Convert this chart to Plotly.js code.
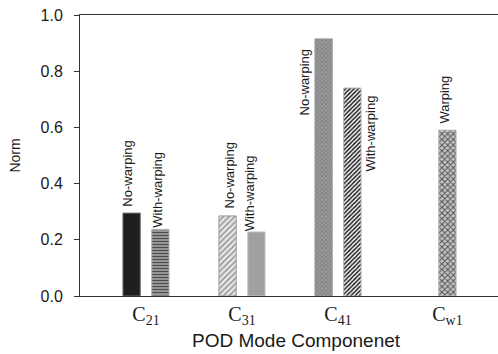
<!DOCTYPE html>
<html>
<head>
<meta charset="utf-8">
<script src="https://cdn.plot.ly/plotly-3.0.1.min.js"></script>
<style>html,body{margin:0;padding:0;background:#fff}#chart{width:498px;height:354px}</style>
</head>
<body>
<div id="chart"></div>
<script>
// ---- data ----
const categories = ['C<sub>21</sub>', 'C<sub>31</sub>', 'C<sub>41</sub>', 'C<sub>w1</sub>'];
const noWarping = [0.295, 0.285, 0.915, null];
const withWarping = [0.237, 0.228, 0.74, null];
const warping = [null, null, null, 0.59];
const seriesNames = ['No-warping', 'With-warping', 'Warping'];
const yTicks = [0.0, 0.2, 0.4, 0.6, 0.8, 1.0];
const yTickLabels = ['0.0', '0.2', '0.4', '0.6', '0.8', '1.0'];

// ---- layout config (positions / styles) ----
const catPos = [0, 1, 2, 3.14];
const barW = 0.18;
const offsets = [-0.24, 0.06, -0.09];

// per-bar fill style [series][category]: {c: solid colour, shape, fg, bg, size, sol, line}
const S = (c, shape, fg, bg, size, sol, line) => ({ c, shape, fg, bg, size, sol, line });
const styles = [
  [S('#1e1e1e', '', null, null, 4, 0.3, '#6a6a6a'),
   S('#e0e0e0', '/', '#858585', '#e6e6e6', 4, 0.3, '#9a9a9a'),
   S('#8c8c8c', 'x', '#787878', '#9a9a9a', 3, 0.4, '#9a9a9a'),
   null],
  [S('#b4b4b4', '-', '#4c4c4c', '#b8b8b8', 3, 0.55, '#b0b0b0'),
   S('#a0a0a0', '', null, null, 4, 0.3, '#c4c4c4'),
   S('#ffffff', '/', '#1c1c1c', '#ffffff', 3, 0.5, '#b0b0b0'),
   null],
  [null, null, null,
   S('#c4c4c4', 'x', '#555555', '#c6c6c6', 4, 0.45, '#b0b0b0')]
];

// label placement: [dx px, dy px, anchor('bottom' above bar top / 'top' beside bar)]
const labelPlace = [
  [[-4, 4, 'bottom'], [2, 5, 'bottom'], [-19, -9, 'top'], null],
  [[-3, 0, 'bottom'], [-6, -1, 'bottom'], [18, -5, 'top'], null],
  [null, null, null, [-3, 5, 'bottom']]
];

const seriesVals = [noWarping, withWarping, warping];
const traces = [];
const annotations = [];
const labelFont = { family: 'Liberation Sans, Arial, sans-serif', size: 13, color: '#1a1a1a' };

seriesVals.forEach((vals, s) => {
  vals.forEach((v, i) => {
    if (v === null || v === undefined) return;
    const st = styles[s][i];
    const marker = { color: st.c, line: { color: st.line, width: 1 } };
    if (st.shape) {
      marker.pattern = {
        shape: st.shape, fgcolor: st.fg, bgcolor: st.bg,
        size: st.size, solidity: st.sol, fillmode: 'replace'
      };
    }
    traces.push({
      type: 'bar',
      name: seriesNames[s],
      x: [catPos[i]],
      y: [v],
      width: barW,
      offset: offsets[s],
      marker: marker,
      hoverinfo: 'skip',
      showlegend: false
    });
    const p = labelPlace[s][i];
    if (p) {
      annotations.push({
        x: catPos[i] + offsets[s] + barW / 2,
        y: v,
        xref: 'x', yref: 'y',
        text: seriesNames[s],
        textangle: -90,
        showarrow: false,
        xanchor: 'center',
        yanchor: p[2],
        xshift: p[0],
        yshift: p[1],
        font: labelFont
      });
    }
  });
});

annotations.push({
  xref: 'paper', yref: 'paper',
  x: (296 - 80) / 418, y: 0,
  yshift: -44,
  xanchor: 'center', yanchor: 'middle',
  text: 'POD Mode Componenet',
  showarrow: false,
  font: { family: 'Liberation Sans, Arial, sans-serif', size: 19, color: '#1a1a1a' }
});

const layout = {
  width: 498, height: 354,
  margin: { l: 80, r: 0, t: 15, b: 58, pad: 0 },
  paper_bgcolor: '#ffffff', plot_bgcolor: '#ffffff',
  barmode: 'overlay',
  showlegend: false,
  xaxis: {
    range: [-0.6875, 3.667],
    tickvals: catPos,
    ticktext: categories,
    ticks: '',
    showgrid: false, zeroline: false,
    showline: true, linecolor: '#333', linewidth: 1, mirror: true,
    tickfont: { family: 'Liberation Serif, Times New Roman, serif', size: 20, color: '#1a1a1a' },
    fixedrange: true
  },
  yaxis: {
    range: [0, 1.0],
    tickvals: yTicks,
    ticktext: yTickLabels,
    ticks: 'outside', ticklen: 5, tickcolor: '#333',
    ticklabelstandoff: 8,
    showgrid: false, zeroline: false,
    showline: true, linecolor: '#333', linewidth: 1,
    tickfont: { family: 'Liberation Sans, Arial, sans-serif', size: 16, color: '#1a1a1a' },
    title: { text: 'Norm', font: { family: 'Liberation Sans, Arial, sans-serif', size: 14, color: '#1a1a1a' }, standoff: 16 },
    fixedrange: true
  },
  annotations: annotations
};

Plotly.newPlot('chart', traces, layout, { displayModeBar: false, staticPlot: true });
</script>
</body>
</html>
